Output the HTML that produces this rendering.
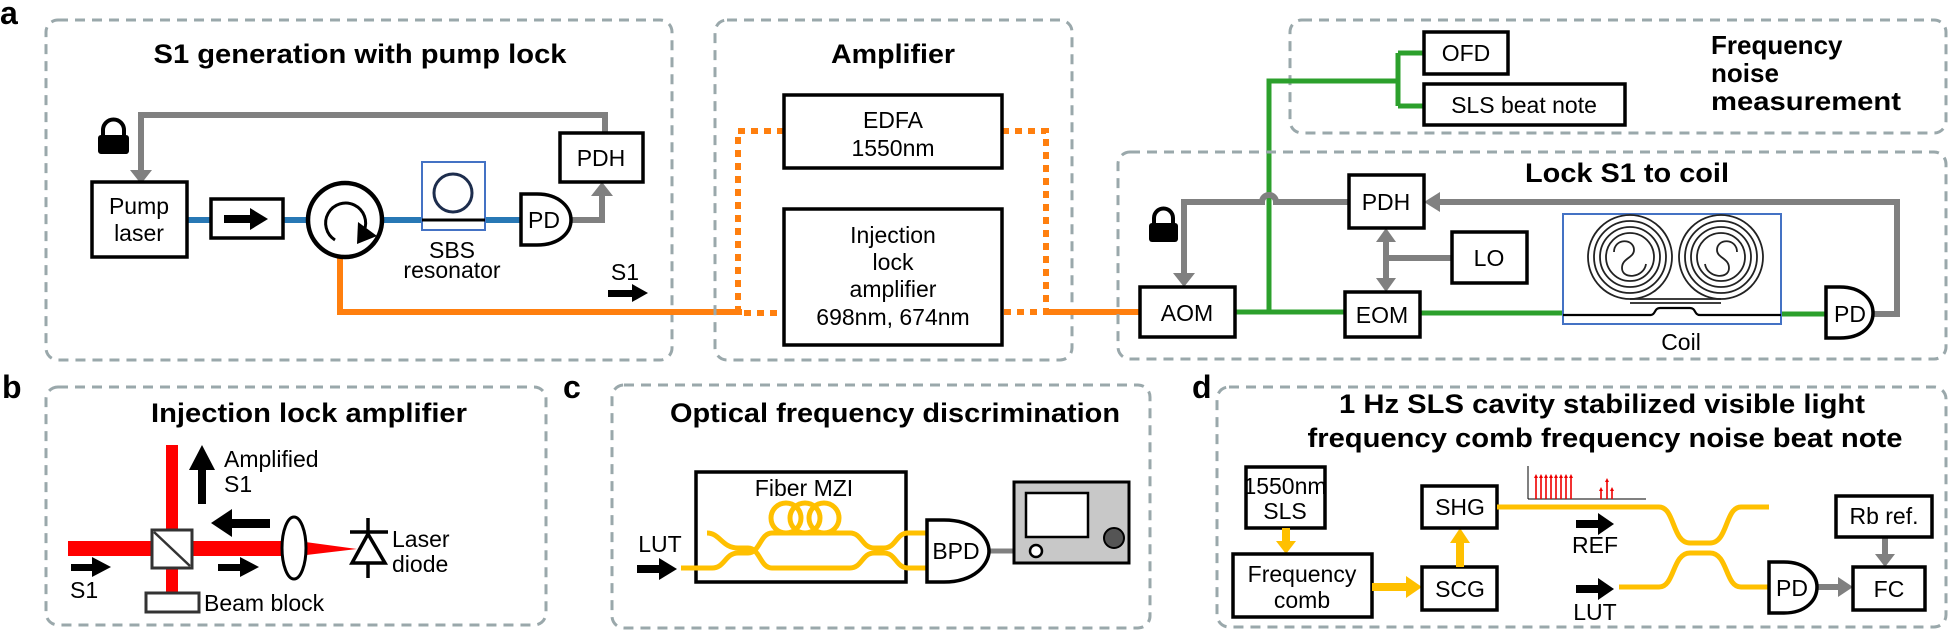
<!DOCTYPE html>
<html><head><meta charset="utf-8"><style>
html,body{margin:0;padding:0;background:#fff;}
svg{display:block;font-family:"Liberation Sans",Arial,sans-serif;}
.t{font-size:23px;fill:#000;text-anchor:middle;}
.b{font-weight:bold;font-size:27px;fill:#000;text-anchor:middle;}
.L{font-weight:bold;font-size:32px;fill:#000;}
.dash{fill:none;stroke:#9aa8ab;stroke-width:3;stroke-dasharray:10 7;}
.bx{fill:#fff;stroke:#000;stroke-width:3.5;}
.gr{fill:none;stroke:#808080;stroke-width:6;}
.or{fill:none;stroke:#ff7f0e;stroke-width:6;}
.od{fill:none;stroke:#ff7f0e;stroke-width:6;stroke-dasharray:7 6;}
.gn{fill:none;stroke:#2ca02c;stroke-width:5;}
.bl{fill:none;stroke:#2878b5;stroke-width:6;}
.yl{fill:none;stroke:#ffc000;stroke-width:5;}
.ya{fill:#ffc000;}
.k{fill:#000;}
</style></head><body>
<svg width="1950" height="630" viewBox="0 0 1950 630" xmlns="http://www.w3.org/2000/svg">
<!-- ===== Panel a ===== -->
<text class="L" x="0" y="24">a</text>
<rect class="dash" x="46" y="20" width="626" height="340" rx="12"/>
<text class="b" x="360" y="63" textLength="413" lengthAdjust="spacingAndGlyphs">S1 generation with pump lock</text>
<path class="gr" d="M605,133 V115 H141 V172"/>
<polygon fill="#808080" points="130,170 152,170 141,184"/>
<path d="M103,138 V130 a10.5,10.5 0 0 1 21,0 V138" fill="none" stroke="#000" stroke-width="4"/>
<rect x="98" y="135" width="31" height="19" rx="3" fill="#000"/>
<path class="bl" d="M187,220 H211 M283,220 H307 M383,220 H422 M485,220 H521"/>
<rect class="bx" x="92" y="182" width="95" height="75"/>
<text class="t" x="139" y="214">Pump</text>
<text class="t" x="139" y="241">laser</text>
<rect class="bx" x="211" y="199" width="72" height="39"/>
<rect x="224" y="215" width="28" height="8" fill="#000"/>
<polygon class="k" points="250,208 268,219 250,230"/>
<path class="or" d="M340,256 V312 H742"/>
<circle cx="345" cy="220" r="37" fill="#fff" stroke="#000" stroke-width="4.5"/>
<path d="M335,240 A20,20 0 1 1 364,231" fill="none" stroke="#000" stroke-width="3"/>
<polygon class="k" points="358,222 377,236 357,244"/>
<rect x="422" y="162" width="63" height="68" fill="#fff" stroke="#4472c4" stroke-width="2"/>
<circle cx="453" cy="193" r="19" fill="none" stroke="#1d2d4d" stroke-width="3"/>
<line x1="422" y1="220" x2="485" y2="220" stroke="#000" stroke-width="3"/>
<text class="t" x="452" y="258">SBS</text>
<text class="t" x="452" y="278">resonator</text>
<path class="gr" d="M571,220 H602 V196"/>
<polygon fill="#808080" points="591,196 613,196 602,182"/>
<path d="M521,194 H537 C560,194 571,208 571,220 C571,232 560,245 537,245 H521 Z" fill="#fff" stroke="#000" stroke-width="3.5"/>
<text class="t" x="544" y="228">PD</text>
<rect class="bx" x="560" y="133" width="83" height="49"/>
<text class="t" x="601" y="166">PDH</text>
<text class="t" x="625" y="280">S1</text>
<rect x="608" y="290" width="26" height="7" fill="#000"/>
<polygon class="k" points="632,284 648,293 632,302"/>

<!-- Amplifier -->
<rect class="dash" x="715" y="20" width="357" height="340" rx="12"/>
<text class="b" x="893" y="63" textLength="124" lengthAdjust="spacingAndGlyphs">Amplifier</text>
<path class="od" d="M784,131 H738 V313 H784"/>
<path class="od" d="M1002,131 H1046 V312 H1002"/>
<path class="or" d="M1046,312 H1140"/>
<rect class="bx" x="784" y="95" width="218" height="73"/>
<text class="t" x="893" y="128">EDFA</text>
<text class="t" x="893" y="156">1550nm</text>
<rect class="bx" x="784" y="209" width="218" height="136"/>
<text class="t" x="893" y="243">Injection</text>
<text class="t" x="893" y="270">lock</text>
<text class="t" x="893" y="297">amplifier</text>
<text class="t" x="893" y="325">698nm, 674nm</text>

<!-- Frequency noise measurement -->
<rect class="dash" x="1290" y="20" width="656" height="113" rx="12"/>
<text x="1711" y="54" style="font-weight:bold;font-size:26px">Frequency</text>
<text x="1711" y="82" style="font-weight:bold;font-size:26px">noise</text>
<text x="1711" y="110" style="font-weight:bold;font-size:26px" textLength="190" lengthAdjust="spacingAndGlyphs">measurement</text>
<path class="gn" d="M1269,312 V81 H1398 M1398,53 V106 M1398,53 H1424 M1398,106 H1424"/>
<rect class="bx" x="1424" y="32" width="84" height="42"/>
<text class="t" x="1466" y="61">OFD</text>
<rect class="bx" x="1424" y="84" width="201" height="41"/>
<text class="t" x="1524" y="113">SLS beat note</text>

<!-- Lock S1 to coil -->
<rect class="dash" x="1118" y="152" width="828" height="207" rx="12"/>
<text class="b" x="1627" y="182" textLength="204" lengthAdjust="spacingAndGlyphs">Lock S1 to coil</text>
<path class="gn" d="M1235,312 H1345 M1420,313 H1563 M1781,314 H1826"/>
<path class="gr" d="M1873,314 H1897 V202 H1436"/>
<polygon fill="#808080" points="1424,202 1440,192 1440,212"/>
<path class="gr" d="M1349,202 H1276 A7,7 0 0 0 1262,202 H1184 V273"/>
<polygon fill="#808080" points="1173,273 1195,273 1184,287"/>
<path d="M1154,226 V218 a9.5,9.5 0 0 1 19,0 V226" fill="none" stroke="#000" stroke-width="4"/>
<rect x="1149" y="223" width="29" height="19" rx="3" fill="#000"/>
<rect class="bx" x="1140" y="287" width="95" height="50"/>
<text class="t" x="1187" y="321">AOM</text>
<path class="gr" d="M1386,240 V280 M1386,258 H1452"/>
<polygon fill="#808080" points="1376,242 1396,242 1386,228"/>
<polygon fill="#808080" points="1376,278 1396,278 1386,292"/>
<rect class="bx" x="1349" y="175" width="75" height="53"/>
<text class="t" x="1386" y="210">PDH</text>
<rect class="bx" x="1452" y="232" width="75" height="51"/>
<text class="t" x="1489" y="266">LO</text>
<rect class="bx" x="1345" y="292" width="75" height="45"/>
<text class="t" x="1382" y="323">EOM</text>
<rect x="1563" y="214" width="218" height="110" fill="#fff" stroke="#4472c4" stroke-width="2"/>
<g fill="none" stroke="#222" stroke-width="1.8">
<circle cx="1630" cy="257" r="42"/><circle cx="1630" cy="257" r="36"/><circle cx="1630" cy="257" r="30"/><circle cx="1630" cy="257" r="24"/>
<circle cx="1721" cy="257" r="42"/><circle cx="1721" cy="257" r="36"/><circle cx="1721" cy="257" r="30"/><circle cx="1721" cy="257" r="24"/>
<path d="M1614,252 C1614,238 1634,238 1634,250 C1634,258 1622,258 1622,268 C1622,280 1644,278 1646,264"/>
<path d="M1737,252 C1737,238 1717,238 1717,250 C1717,258 1729,258 1729,268 C1729,280 1707,278 1705,264"/>
<path d="M1630,299 H1721 M1630,303 H1721"/>
<path d="M1563,315 H1650 C1656,315 1654,308 1660,308 H1690 C1696,308 1694,315 1700,315 H1781" stroke="#000" stroke-width="2.2"/>
</g>
<text class="t" x="1681" y="350">Coil</text>
<path d="M1826,287 H1840 C1862,287 1873,300 1873,313 C1873,326 1862,338 1840,338 H1826 Z" fill="#fff" stroke="#000" stroke-width="3.5"/>
<text class="t" x="1850" y="322">PD</text>

<!-- ===== Panel b ===== -->
<text class="L" x="2" y="398">b</text>
<rect class="dash" x="46" y="387" width="500" height="238" rx="12"/>
<text class="b" x="309" y="422" textLength="316" lengthAdjust="spacingAndGlyphs">Injection lock amplifier</text>
<rect x="166" y="445" width="12" height="148" fill="#ff0000"/>
<rect x="68" y="541" width="222" height="15" fill="#ff0000"/>
<polygon fill="#ff0000" points="298,541 298,556 357,549"/>
<rect x="152" y="530" width="40" height="38" fill="#fff" stroke="#333" stroke-width="3"/>
<line x1="154" y1="532" x2="190" y2="566" stroke="#333" stroke-width="2.5"/>
<rect x="146" y="593" width="53" height="19" fill="#fff" stroke="#333" stroke-width="3"/>
<text x="204" y="611" style="font-size:23px">Beam block</text>
<rect x="198" y="468" width="8" height="36" fill="#000"/>
<polygon class="k" points="189,470 215,470 202,445"/>
<text x="224" y="467" style="font-size:23px">Amplified</text>
<text x="224" y="492" style="font-size:23px">S1</text>
<rect x="230" y="519" width="40" height="9" fill="#000"/>
<polygon class="k" points="232,509 232,537 211,523"/>
<rect x="218" y="564" width="24" height="7" fill="#000"/>
<polygon class="k" points="240,557 259,567 240,577"/>
<rect x="71" y="564" width="22" height="7" fill="#000"/>
<polygon class="k" points="92,557 111,567 92,577"/>
<text x="70" y="598" style="font-size:23px">S1</text>
<ellipse cx="294" cy="548" rx="12" ry="31" fill="#fff" stroke="#000" stroke-width="3"/>
<g stroke="#000" stroke-width="3.5" fill="none">
<line x1="368" y1="518" x2="368" y2="578"/>
<line x1="350" y1="532" x2="388" y2="532"/>
<polygon points="368,534 352,563 385,563" fill="#fff"/>
</g>
<text x="392" y="547" style="font-size:23px">Laser</text>
<text x="392" y="572" style="font-size:23px">diode</text>

<!-- ===== Panel c ===== -->
<text class="L" x="563" y="398">c</text>
<rect class="dash" x="612" y="385" width="538" height="243" rx="12"/>
<text class="b" x="895" y="422" textLength="450" lengthAdjust="spacingAndGlyphs">Optical frequency discrimination</text>
<rect class="bx" x="696" y="472" width="210" height="110" fill="none"/>
<text class="t" x="804" y="496">Fiber MZI</text>
<g class="yl">
<circle cx="786" cy="518" r="15"/><circle cx="805" cy="518" r="15"/><circle cx="824" cy="518" r="15"/>
<path d="M681,568 H712 C725,568 725,553 738,553 H748 C760,553 760,533 772,533 H850 C862,533 862,548 874,548 H884 C896,548 896,533 908,533 H927"/>
<path d="M707,533 C720,533 722,548 738,548 H748 C760,548 760,568 772,568 H850 C862,568 862,553 874,553 H884 C896,553 896,568 908,568 H927"/>
</g>
<text class="t" x="660" y="552">LUT</text>
<rect x="637" y="565" width="24" height="8" fill="#000"/>
<polygon class="k" points="659,558 677,569 659,580"/>
<line x1="989" y1="551" x2="1032" y2="551" stroke="#808080" stroke-width="5"/>
<path d="M927,520 H944 C975,520 989,538 989,551 C989,564 975,582 944,582 H927 Z" fill="#fff" stroke="#000" stroke-width="3.5"/>
<text class="t" x="956" y="559">BPD</text>
<rect x="1014" y="482" width="115" height="81" fill="#c8c8c8" stroke="#000" stroke-width="3"/>
<rect x="1026" y="493" width="62" height="44" fill="#fff" stroke="#000" stroke-width="2.5"/>
<circle cx="1114" cy="538" r="10" fill="#555" stroke="#000" stroke-width="2"/>
<circle cx="1036" cy="551" r="6" fill="#fff" stroke="#000" stroke-width="2.5"/>

<!-- ===== Panel d ===== -->
<text class="L" x="1192" y="398">d</text>
<rect class="dash" x="1217" y="387" width="729" height="240" rx="12"/>
<text class="b" x="1602" y="413" textLength="526" lengthAdjust="spacingAndGlyphs">1 Hz SLS cavity stabilized visible light</text>
<text class="b" x="1605" y="447" textLength="595" lengthAdjust="spacingAndGlyphs">frequency comb frequency noise beat note</text>
<rect class="bx" x="1246" y="467" width="79" height="61"/>
<text class="t" x="1285" y="494">1550nm</text>
<text class="t" x="1285" y="519">SLS</text>
<rect x="1282" y="528" width="8" height="14" class="ya"/>
<polygon class="ya" points="1276,541 1296,541 1286,554"/>
<rect class="bx" x="1233" y="554" width="139" height="63"/>
<text class="t" x="1302" y="582">Frequency</text>
<text class="t" x="1302" y="608">comb</text>
<rect x="1372" y="583" width="36" height="8" class="ya"/>
<polygon class="ya" points="1406,576 1422,587 1406,598"/>
<rect class="bx" x="1422" y="567" width="75" height="43"/>
<text class="t" x="1460" y="597">SCG</text>
<rect x="1456" y="541" width="8" height="26" class="ya"/>
<polygon class="ya" points="1450,543 1470,543 1460,528"/>
<rect class="bx" x="1422" y="486" width="75" height="42"/>
<text class="t" x="1460" y="515">SHG</text>
<g class="yl">
<path d="M1497,507 H1659 C1675,507 1672,543 1690,543 H1710 C1728,543 1725,507 1741,507 H1769"/>
<path d="M1619,587 H1659 C1675,587 1672,553 1690,553 H1710 C1728,553 1725,587 1741,587 H1769"/>
</g>
<g stroke="#000" stroke-width="1" fill="none">
<line x1="1528" y1="499" x2="1646" y2="499"/><line x1="1528" y1="499" x2="1528" y2="466"/>
</g>
<g stroke="#e00" stroke-width="1.6">
<line x1="1536" y1="499" x2="1536" y2="476"/><line x1="1541" y1="499" x2="1541" y2="476"/><line x1="1546" y1="499" x2="1546" y2="476"/><line x1="1551" y1="499" x2="1551" y2="476"/><line x1="1556" y1="499" x2="1556" y2="476"/><line x1="1561" y1="499" x2="1561" y2="476"/><line x1="1566" y1="499" x2="1566" y2="476"/><line x1="1571" y1="499" x2="1571" y2="476"/>
<line x1="1601" y1="499" x2="1601" y2="489"/><line x1="1607" y1="499" x2="1607" y2="480"/><line x1="1612" y1="499" x2="1612" y2="489"/>
</g>
<g fill="#e00">
<polygon points="1534,478 1538,478 1536,474"/><polygon points="1539,478 1543,478 1541,474"/><polygon points="1544,478 1548,478 1546,474"/><polygon points="1549,478 1553,478 1551,474"/><polygon points="1554,478 1558,478 1556,474"/><polygon points="1559,478 1563,478 1561,474"/><polygon points="1564,478 1568,478 1566,474"/><polygon points="1569,478 1573,478 1571,474"/>
<polygon points="1599,491 1603,491 1601,487"/><polygon points="1605,482 1609,482 1607,478"/><polygon points="1610,491 1614,491 1612,487"/>
</g>
<rect x="1576" y="520" width="24" height="8" fill="#000"/>
<polygon class="k" points="1598,513 1614,524 1598,535"/>
<text class="t" x="1595" y="553">REF</text>
<rect x="1576" y="585" width="24" height="8" fill="#000"/>
<polygon class="k" points="1598,578 1614,589 1598,600"/>
<text class="t" x="1595" y="620">LUT</text>
<line x1="1817" y1="587" x2="1840" y2="587" stroke="#808080" stroke-width="6"/>
<polygon fill="#808080" points="1838,577 1853,587 1838,597"/>
<path d="M1769,562 H1784 C1806,562 1817,575 1817,587 C1817,600 1806,613 1784,613 H1769 Z" fill="#fff" stroke="#000" stroke-width="3.5"/>
<text class="t" x="1792" y="596">PD</text>
<line x1="1885" y1="537" x2="1885" y2="556" stroke="#808080" stroke-width="6"/>
<polygon fill="#808080" points="1875,554 1895,554 1885,567"/>
<rect class="bx" x="1836" y="496" width="96" height="41"/>
<text class="t" x="1884" y="524">Rb ref.</text>
<rect class="bx" x="1853" y="567" width="72" height="43"/>
<text class="t" x="1889" y="597">FC</text>
</svg>
</body></html>
